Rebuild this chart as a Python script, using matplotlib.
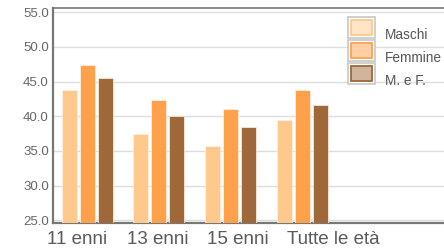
import matplotlib
matplotlib.use("Agg")
import matplotlib.pyplot as plt
import numpy as np
from matplotlib.patches import Rectangle, Patch
from matplotlib.legend_handler import HandlerBase
from matplotlib.transforms import blended_transform_factory, offset_copy

categories = ["11 enni", "13 enni", "15 enni", "Tutte le età"]
series_names = ["Maschi", "Femmine", "M. e F."]
maschi = [43.8, 37.4, 35.7, 39.4]
femmine = [47.4, 42.4, 41.1, 43.8]
mef = [45.5, 40.0, 38.5, 41.6]
colors = ["#ffc98e", "#ffa14b", "#9f6838"]
legend_fill = ["#ffe4c8", "#ffd0a5", "#d1b49c"]
yticks = [25.0, 30.0, 35.0, 40.0, 45.0, 50.0, 55.0]

plt.rcParams['font.family'] = ['Liberation Sans', 'DejaVu Sans']

W, H = 444, 250
PX = 72 / 100  # points per pixel
fig = plt.figure(figsize=(W / 100, H / 100), dpi=100)
ax_left, ax_right, ax_top, ax_bot = 53, 600, 7.5, 223
ax = fig.add_axes([ax_left / W, 1 - ax_bot / H, (ax_right - ax_left) / W, (ax_bot - ax_top) / H])

spacing = 71.8
x = np.arange(len(categories))
bw = 15 / spacing
off = 18 / spacing
for i, (vals, c) in enumerate(zip([maschi, femmine, mef], colors)):
    ax.bar(x + (i - 1) * off, vals, width=bw, color=c, edgecolor="#fff4ea", linewidth=0.5, zorder=3)

ax.set_yticks(yticks)
ax.set_yticklabels([f"{v:.1f}" for v in yticks])
ax.grid(axis='y', color="#dddddd", linewidth=1, zorder=0)
ax.tick_params(axis='y', length=0, pad=3, labelsize=9.5, labelcolor="#666666")
ax.set_xticks([])

ax.set_ylim(24.6, 55.7)
ax.set_xlim((ax_left - 87) / spacing, (ax_right - 87) / spacing)

# category labels, left-aligned below each group
label_x = [(46.5 - 87) / spacing + i * 80.3 / spacing for i in range(len(categories))]
trans = offset_copy(blended_transform_factory(ax.transData, ax.transAxes), fig=fig, y=-6, units='points')
for lx, lab in zip(label_x, categories):
    ax.text(lx, 0, lab, transform=trans, ha='left', va='top', fontsize=13.5,
            color="#5a5a5a", clip_on=False)

for s in ['left', 'bottom']:
    ax.spines[s].set_color("#777777")
    ax.spines[s].set_linewidth(1.6)
ax.spines['top'].set_color("#777777")
ax.spines['top'].set_linewidth(1.2)
ax.spines['right'].set_visible(False)


class BoxHandler(HandlerBase):
    def create_artists(self, legend, orig_handle, xdescent, ydescent, width, height, fontsize, trans):
        ow, oh = 27 * PX, 21 * PX
        x0 = -xdescent
        y0 = -ydescent + height - oh + 6 * PX
        outer = Rectangle((x0, y0), ow, oh, facecolor="white",
                          edgecolor="#cccccc", linewidth=1.3, transform=trans)
        p = 3 * PX
        inner = Rectangle((x0 + p, y0 + p), ow - 2 * p, oh - 2 * p,
                          facecolor=orig_handle.get_facecolor(), edgecolor=orig_handle.get_edgecolor(),
                          linewidth=1.3, transform=trans)
        return [outer, inner]


handles = [Patch(facecolor=f, edgecolor=c) for f, c in zip(legend_fill, colors)]
fs = 9.8
hh = (23 * PX - 0.245 * fs) / (0.65 * fs)
leg = fig.legend(handles, series_names, loc='upper left', bbox_to_anchor=(348 / W, 1 - 23 / H),
                 frameon=False, fontsize=fs, handlelength=27 * PX / fs, handleheight=hh,
                 labelspacing=0.0, handletextpad=10 * PX / fs, borderpad=0, borderaxespad=0,
                 handler_map={Patch: BoxHandler()})
for t in leg.get_texts():
    t.set_color("#555555")

fig.savefig("out.png", dpi=100)
